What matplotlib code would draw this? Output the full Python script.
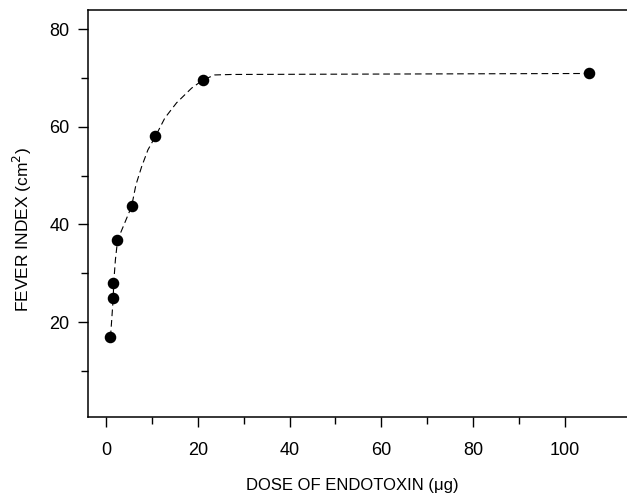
import matplotlib
matplotlib.use("Agg")
import matplotlib.pyplot as plt

dose = [1.0, 1.6, 1.6, 2.5, 5.6, 10.8, 21.2, 105.2]
fever = [16.9, 25.0, 28.0, 36.8, 43.7, 58.1, 69.6, 70.9]

# hand drawn dashed curve
curve_x = [1.0, 1.3, 1.6, 1.7, 2.07, 2.55, 4.1, 5.6, 6.54, 7.78, 9.15, 10.83,
           12.85, 15.4, 18.67, 21.2, 23.7, 27.4, 105.2]
curve_y = [16.9, 20.9, 25.0, 28.0, 32.75, 36.8, 40.3, 43.7, 48.1, 51.8, 55.25, 58.1,
           61.8, 64.9, 67.9, 69.6, 70.6, 70.7, 70.9]

x_ticks = [0, 20, 40, 60, 80, 100]
x_labels = ["0", "20", "40", "60", "80", "100"]
y_ticks = [20, 40, 60, 80]

plt.rcParams['font.family'] = ['Liberation Sans', 'DejaVu Sans']

fig = plt.figure(figsize=(6.27, 5.0), dpi=100)
ax = fig.add_axes([0.1396, 0.1654, 0.8604, 0.8146])

ax.plot(curve_x, curve_y, color="black", lw=0.8, ls=(0, (6, 3.5)))
ax.plot(dose, fever, "o", color="black", ms=7.3)

ax.set_xlim(-4.0, 113.5)
ax.set_ylim(0.5, 83.9)

ax.spines["right"].set_visible(False)
for s in ["left", "bottom", "top"]:
    ax.spines[s].set_linewidth(1.1)

ax.set_xticks(x_ticks)
ax.set_xticklabels(x_labels)
ax.set_xticks([10, 30, 50, 70, 90], minor=True)
ax.set_yticks(y_ticks)
ax.set_yticks([10, 30, 50, 70], minor=True)
ax.tick_params(axis="both", which="major", direction="out", length=7, width=1,
               labelsize=13)
ax.tick_params(axis="both", which="minor", direction="out", length=5, width=1)
ax.tick_params(axis="x", which="major", pad=11)
ax.tick_params(axis="y", which="major", pad=6)

ax.set_xlabel("DOSE OF ENDOTOXIN (\u03bcg)", fontsize=12)
ax.set_ylabel("FEVER INDEX (cm$^2$)", fontsize=12.5)
ax.xaxis.set_label_coords(0.49, -0.148)
ax.yaxis.set_label_coords(-0.10, 0.46)

fig.savefig("out.png", dpi=100)
